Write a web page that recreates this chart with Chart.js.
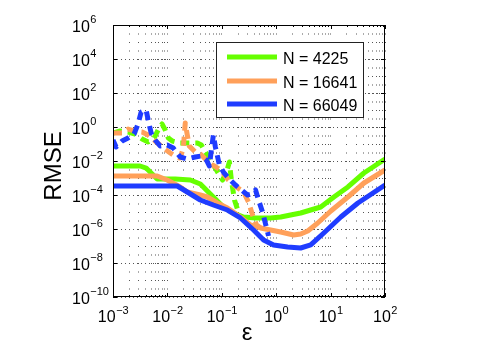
<!DOCTYPE html>
<html>
<head>
<meta charset="utf-8">
<script src="https://cdn.jsdelivr.net/npm/chart.js@4.4.1/dist/chart.umd.min.js"></script>
<style>
  html, body { margin: 0; padding: 0; background: #fff; }
  canvas { display: block; }
</style>
</head>
<body>
<canvas id="chart" width="480" height="352"></canvas>
<script>
const seriesLabels = ['N = 4225', 'N = 16641', 'N = 66049'];
const seriesColors = ['#66ff00', '#ffa05a', '#1f3cff'];

// tick labels (powers of ten)
const xTickExps = [-3, -2, -1, 0, 1, 2];
const yTickExps = [6, 4, 2, 0, -2, -4, -6, -8, -10];

// solid curves
const epsSolid4225 = [1e-3, 3.15e-3, 4.07e-3, 5.25e-3, 6.49e-3, 1.39e-2, 2.64e-2, 4.03e-2, 7.0e-2, 0.107, 0.164, 0.251, 0.417, 0.789, 1.21, 1.84, 2.82, 4.31, 6.59, 11.5, 20.8, 41.0, 100];
const rmseSolid4225 = [5.08e-3, 5.08e-3, 3.87e-3, 1.72e-3, 8.73e-4, 8.73e-4, 7.62e-4, 4.44e-4, 7.62e-5, 1.97e-5, 8.73e-6, 5.08e-6, 4.44e-6, 4.44e-6, 5.08e-6, 6.67e-6, 8.73e-6, 1.31e-5, 1.97e-5, 7.62e-5, 2.96e-4, 1.97e-3, 1.31e-2];

const epsSolid16641 = [1e-3, 6.49e-3, 9.9e-3, 1.72e-2, 2.32e-2, 4.03e-2, 5.42e-2, 8.3e-2, 0.127, 0.220, 0.337, 0.515, 1.21, 2.09, 2.82, 3.80, 5.80, 10.1, 20.8, 41.0, 100];
const rmseSolid16641 = [1.31e-3, 1.31e-3, 7.62e-4, 2.96e-4, 1.50e-4, 1.0e-4, 7.62e-5, 3.38e-5, 1.72e-5, 5.08e-6, 1.72e-6, 1.15e-6, 6.67e-7, 4.44e-7, 5.08e-7, 7.62e-7, 2.25e-6, 1.15e-5, 7.62e-5, 5.08e-4, 2.96e-3];

const epsSolid66049 = [1e-3, 1.52e-2, 2.32e-2, 4.03e-2, 7.0e-2, 0.127, 0.220, 0.383, 0.586, 0.895, 1.62, 2.82, 4.31, 7.5, 15.4, 31.8, 100];
const rmseSolid66049 = [3.38e-4, 3.38e-4, 1.50e-4, 5.08e-5, 2.58e-5, 1.31e-5, 4.44e-6, 8.73e-7, 2.25e-7, 1.15e-7, 8.73e-8, 7.62e-8, 1.15e-7, 5.82e-7, 5.08e-6, 3.38e-5, 3.87e-4];

// dashed curves
const epsDash4225 = [1e-3, 1.35e-3, 1.89e-3, 2.55e-3, 3.43e-3, 4.43e-3, 5.70e-3, 6.76e-3, 8.01e-3, 9.10e-3, 1.04e-2, 1.23e-2, 1.72e-2, 2.64e-2, 3.55e-2, 4.21e-2, 4.98e-2, 6.17e-2, 7.94e-2, 0.103, 0.122, 0.138, 0.150, 0.171, 0.202];
const rmseDash4225 = [0.444, 0.582, 0.508, 0.387, 0.197, 0.131, 0.225, 0.667, 1.50, 0.667, 0.225, 0.150, 0.115, 0.115, 0.115, 8.73e-2, 3.38e-2, 1.15e-2, 2.96e-3, 7.62e-4, 2.25e-3, 8.73e-3, 7.62e-4, 5.08e-5, 1.0e-5];

const epsDash16641 = [1e-3, 1.47e-3, 1.89e-3, 2.44e-3, 3.43e-3, 4.43e-3, 5.96e-3, 8.01e-3, 1.13e-2, 1.45e-2, 1.72e-2, 1.96e-2, 2.13e-2, 2.32e-2, 2.52e-2, 3.26e-2, 4.03e-2, 5.20e-2, 6.71e-2, 9.42e-2, 0.132, 0.186, 0.251, 0.310, 0.367, 0.435, 0.561];
const rmseDash16641 = [0.444, 0.444, 0.762, 0.582, 0.508, 0.338, 0.150, 6.67e-2, 2.96e-2, 1.72e-2, 1.50e-2, 5.82e-2, 1.72, 0.338, 7.62e-2, 3.38e-2, 2.58e-2, 1.15e-2, 5.82e-3, 2.96e-3, 7.62e-4, 2.96e-4, 1.50e-4, 3.87e-5, 6.67e-6, 1.72e-6, 1.0e-6];

const epsDash66049 = [1e-3, 1.14e-3, 1.47e-3, 1.89e-3, 2.44e-3, 2.89e-3, 3.29e-3, 4.07e-3, 4.43e-3, 5.02e-3, 5.96e-3, 7.36e-3, 9.9e-3, 1.28e-2, 1.72e-2, 2.32e-2, 3.26e-2, 4.21e-2, 5.20e-2, 5.90e-2, 6.43e-2, 7.0e-2, 7.62e-2, 9.04e-2, 0.107, 0.138, 0.178, 0.230, 0.297, 0.352, 0.417, 0.473, 0.561, 0.637, 0.724];
const rmseDash66049 = [0.172, 6.67e-2, 0.150, 0.225, 0.387, 1.50, 7.62, 10, 2.58, 0.444, 0.172, 7.62e-2, 8.73e-2, 5.82e-2, 1.72e-2, 1.31e-2, 1.72e-2, 1.97e-2, 1.15e-2, 5.08e-3, 4.44e-2, 0.338, 6.67e-2, 5.82e-3, 2.25e-3, 8.73e-4, 3.87e-4, 1.97e-4, 1.0e-4, 1.15e-4, 1.97e-4, 5.08e-5, 1.0e-5, 1.97e-6, 3.87e-7];

const FONT = '"Liberation Sans", Arial, Helvetica, sans-serif';

// grid: every 1..9 x 10^k on x, labelled decades on y
const xGridValues = [];
for (let k = -3; k < 2; k++) {
    for (let m = 1; m < 10; m++) xGridValues.push(m * 10 ** k);
}
xGridValues.push(100);
const yGridValues = yTickExps.map(e => 10 ** e);

function zip(xs, ys) {
    return xs.map((x, i) => ({ x: x, y: ys[i] }));
}

function lineSet(label, xs, ys, color, dashed, order) {
    return {
        label: label,
        data: zip(xs, ys),
        borderColor: color,
        borderWidth: 5,
        borderDash: dashed ? [9, 6] : [],
        borderCapStyle: 'butt',
        borderJoinStyle: 'round',
        pointRadius: 0,
        tension: 0,
        fill: false,
        clip: 0,
        order: order
    };
}

function drawPower(ctx, exp, x, y, align) {
    const base = '10';
    const sup = exp < 0 ? '\u2212' + (-exp) : String(exp);
    ctx.font = `16px ${FONT}`;
    const wb = ctx.measureText(base).width;
    ctx.font = `11px ${FONT}`;
    const ws = ctx.measureText(sup).width;
    const x0 = align === 'center' ? x - (wb + ws) / 2 : x;
    ctx.font = `16px ${FONT}`;
    ctx.fillText(base, x0, y);
    ctx.font = `11px ${FONT}`;
    ctx.fillText(sup, x0 + wb + 0.5, y - 8.5);
}

const axesDecor = {
    id: 'axesDecor',
    afterDatasetsDraw(chart) {
        const { ctx, chartArea: a, scales } = chart;
        ctx.save();
        ctx.strokeStyle = '#000';
        ctx.lineWidth = 1;
        ctx.setLineDash([]);
        ctx.strokeRect(a.left + 0.5, a.top + 0.5, a.right - a.left - 1, a.bottom - a.top - 1);

        ctx.beginPath();
        xGridValues.forEach(v => {
            const px = Math.round(scales.x.getPixelForValue(v)) + 0.5;
            const major = xTickExps.some(e => Math.abs(Math.log10(v) - e) < 1e-9);
            const len = major ? 4 : 2;
            ctx.moveTo(px, a.bottom); ctx.lineTo(px, a.bottom - len);
            ctx.moveTo(px, a.top); ctx.lineTo(px, a.top + len);
        });
        yGridValues.forEach(v => {
            const py = Math.round(scales.y.getPixelForValue(v)) + 0.5;
            ctx.moveTo(a.left, py); ctx.lineTo(a.left + 4, py);
            ctx.moveTo(a.right, py); ctx.lineTo(a.right - 4, py);
        });
        ctx.stroke();
        ctx.restore();
    },
    afterDraw(chart) {
        const { ctx, chartArea: a, scales } = chart;
        ctx.save();
        ctx.fillStyle = '#000';
        ctx.textAlign = 'left';
        ctx.textBaseline = 'alphabetic';

        yTickExps.forEach(e => {
            const py = scales.y.getPixelForValue(10 ** e);
            drawPower(ctx, e, 72, py + 6.5, 'left');
        });
        xTickExps.forEach(e => {
            const px = scales.x.getPixelForValue(10 ** e);
            drawPower(ctx, e, px, a.bottom + 25, 'center');
        });

        // axis titles
        ctx.font = `24px ${FONT}`;
        ctx.textAlign = 'center';
        ctx.fillText('\u03b5', 247, 340);
        ctx.save();
        ctx.translate(60.5, 166);
        ctx.rotate(-Math.PI / 2);
        ctx.fillText('RMSE', 0, 0);
        ctx.restore();

        // legend
        const lx = 217, ly = 43, lw = 147, lh = 75;
        ctx.fillStyle = '#fff';
        ctx.fillRect(lx, ly, lw, lh);
        ctx.strokeStyle = '#222';
        ctx.lineWidth = 1;
        ctx.strokeRect(lx - 0.5, ly - 0.5, lw, lh);
        const rows = [57, 81, 104];
        ctx.font = `16px ${FONT}`;
        ctx.textAlign = 'left';
        seriesLabels.forEach((label, i) => {
            ctx.strokeStyle = seriesColors[i];
            ctx.lineWidth = 5;
            ctx.beginPath();
            ctx.moveTo(227, rows[i]);
            ctx.lineTo(277, rows[i]);
            ctx.stroke();
            ctx.fillStyle = '#000';
            ctx.fillText(label, 283, rows[i] + 7);
        });
        ctx.restore();
    }
};

new Chart(document.getElementById('chart'), {
    type: 'line',
    data: {
        datasets: [
            lineSet(seriesLabels[0], epsSolid4225, rmseSolid4225, seriesColors[0], false, 6),
            lineSet(seriesLabels[0], epsDash4225, rmseDash4225, seriesColors[0], true, 5),
            lineSet(seriesLabels[1], epsSolid16641, rmseSolid16641, seriesColors[1], false, 4),
            lineSet(seriesLabels[1], epsDash16641, rmseDash16641, seriesColors[1], true, 3),
            lineSet(seriesLabels[2], epsSolid66049, rmseSolid66049, seriesColors[2], false, 2),
            lineSet(seriesLabels[2], epsDash66049, rmseDash66049, seriesColors[2], true, 1)
        ]
    },
    options: {
        responsive: false,
        animation: false,
        events: [],
        layout: { padding: { left: 113, top: 25, right: 95, bottom: 55 } },
        plugins: {
            legend: { display: false },
            tooltip: { enabled: false }
        },
        scales: {
            x: {
                type: 'logarithmic',
                min: 1e-3,
                max: 100,
                afterBuildTicks: scale => { scale.ticks = xGridValues.map(v => ({ value: v })); },
                ticks: { display: false },
                grid: { color: '#555', lineWidth: 1, drawTicks: false },
                border: { display: false, dash: [1, 7.5] }
            },
            y: {
                type: 'logarithmic',
                min: 1e-10,
                max: 1e6,
                afterBuildTicks: scale => { scale.ticks = yGridValues.map(v => ({ value: v })); },
                ticks: { display: false },
                grid: { color: '#555', lineWidth: 1, drawTicks: false },
                border: { display: false, dash: [1, 3] }
            }
        }
    },
    plugins: [axesDecor]
});
</script>
</body>
</html>
